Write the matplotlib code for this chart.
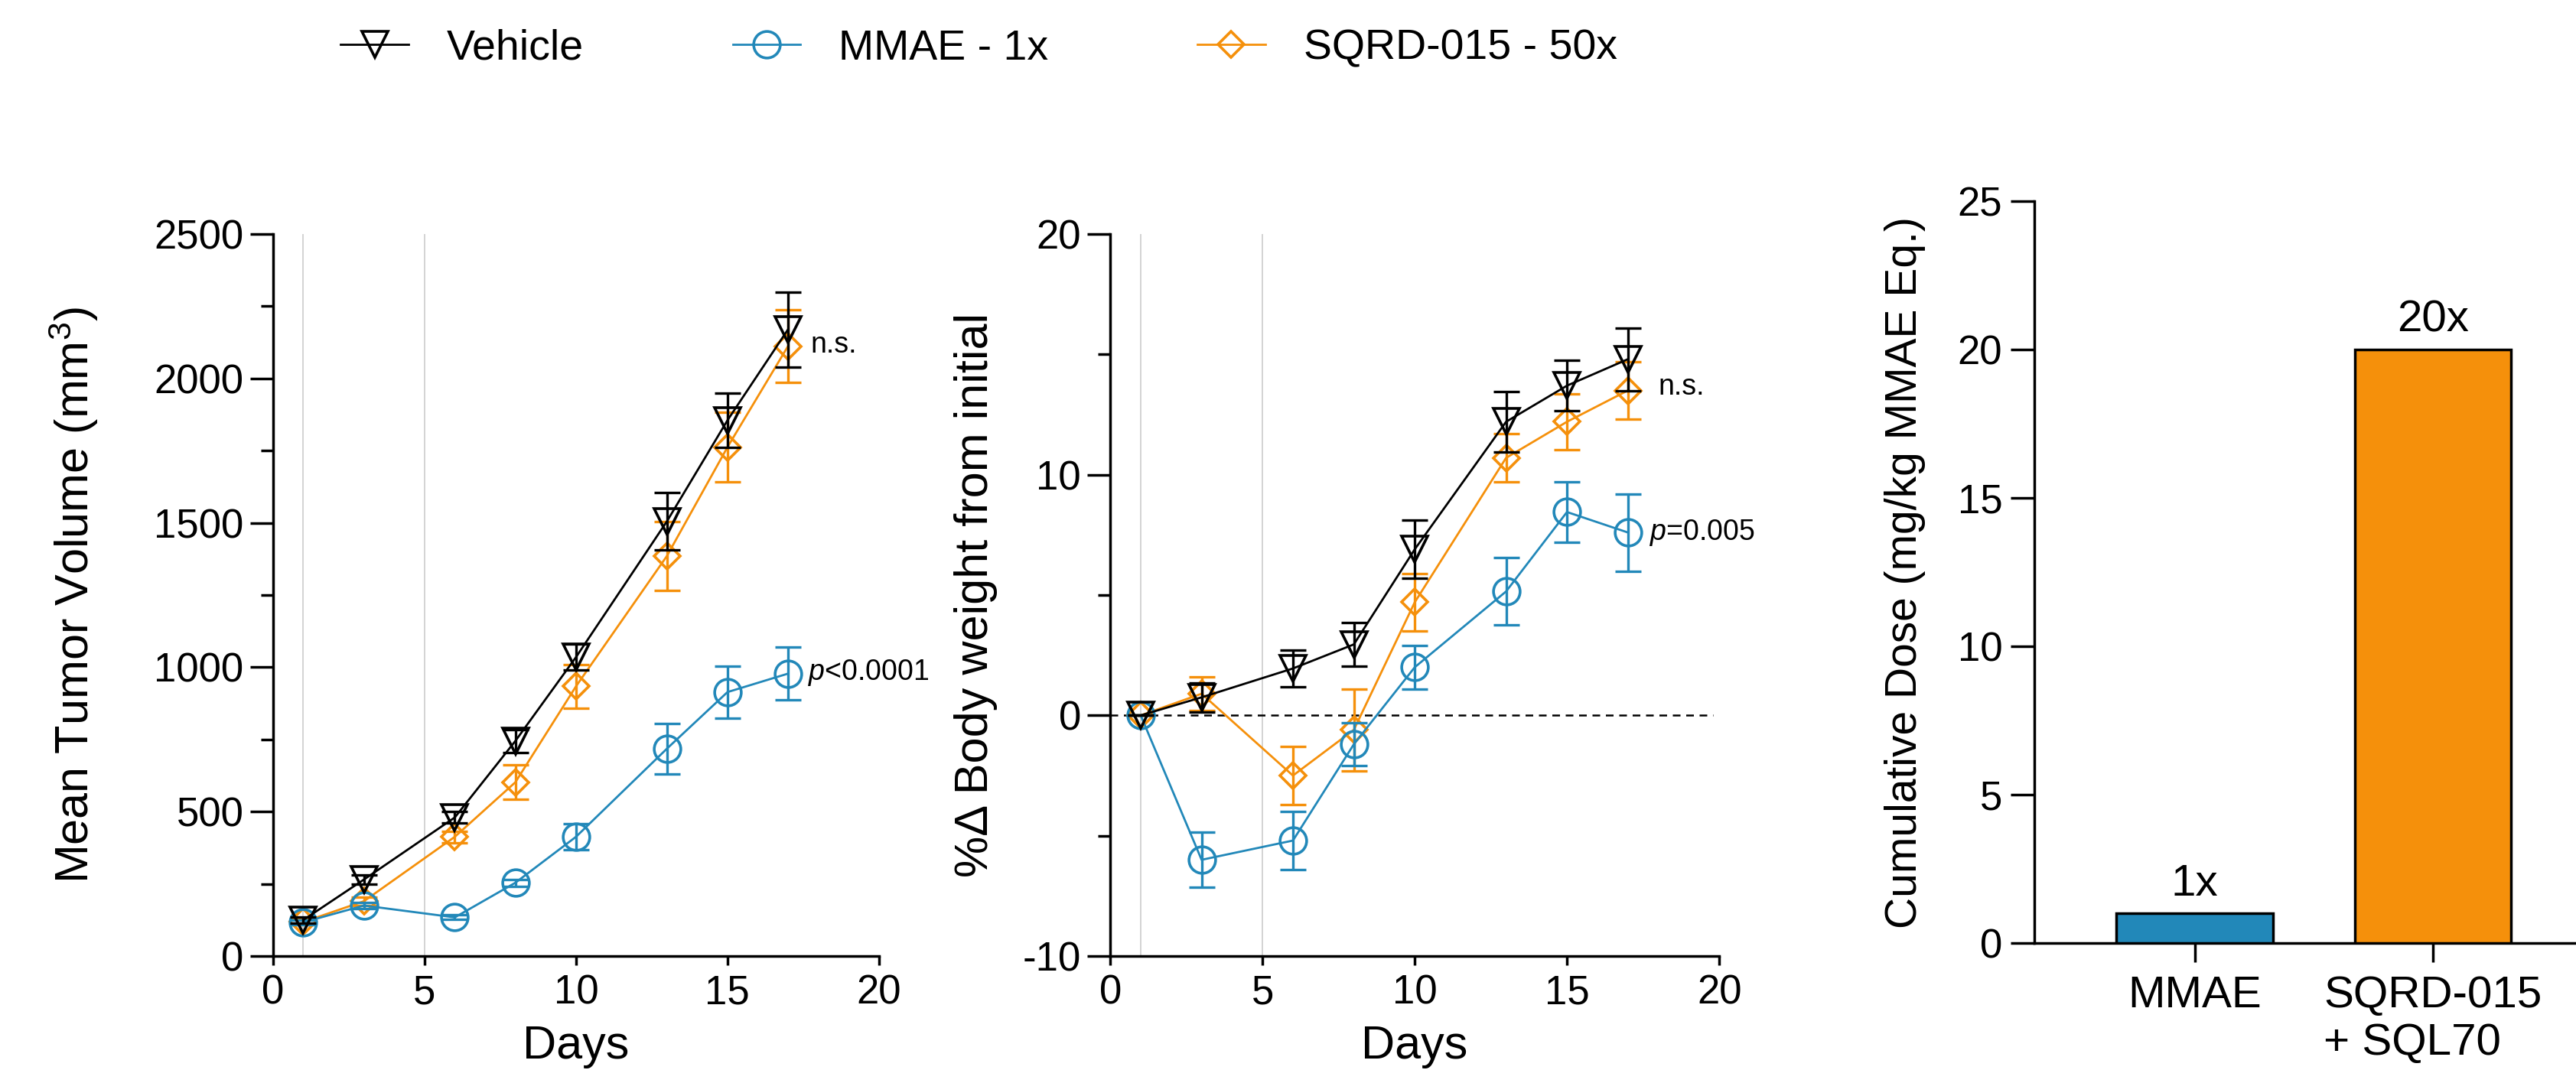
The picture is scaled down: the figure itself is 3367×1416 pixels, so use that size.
import numpy as np
import matplotlib
matplotlib.use('Agg')
import matplotlib.pyplot as plt
from matplotlib.ticker import MultipleLocator

plt.rcParams['font.family'] = ['Liberation Sans', 'DejaVu Sans']
plt.rcParams['mathtext.fontset'] = 'custom'
plt.rcParams['mathtext.rm'] = 'Liberation Sans'
plt.rcParams['mathtext.it'] = 'Liberation Sans:italic'
plt.rcParams['axes.unicode_minus'] = False

# data
days = [1, 3, 6, 8, 10, 13, 15, 17]

vol_vehicle = [125, 265, 480, 745, 1035, 1505, 1855, 2170]
vol_vehicle_err = [10, 15, 20, 40, 45, 100, 95, 130]
vol_mmae = [117, 175, 134, 254, 413, 718, 914, 978]
vol_mmae_err = [8, 10, 8, 12, 44, 87, 90, 92]
vol_sqrd = [118, 190, 413, 602, 934, 1385, 1762, 2112]
vol_sqrd_err = [8, 15, 20, 60, 75, 118, 120, 125]

bw_vehicle = [0, 0.75, 1.95, 2.95, 6.9, 12.2, 13.7, 14.8]
bw_vehicle_err = [0, 0.6, 0.75, 0.9, 1.2, 1.25, 1.05, 1.3]
bw_mmae = [0, -6.0, -5.2, -1.2, 2.0, 5.15, 8.45, 7.6]
bw_mmae_err = [0, 1.15, 1.2, 0.9, 0.9, 1.4, 1.25, 1.6]
bw_sqrd = [0, 0.9, -2.5, -0.6, 4.7, 10.7, 12.2, 13.5]
bw_sqrd_err = [0, 0.7, 1.2, 1.7, 1.2, 1.0, 1.15, 1.2]

dose_groups = ['MMAE', 'SQRD-015\n+ SQL70']
dose_values = [1, 20]
dose_text = ['1x', '20x']

dosing_days = [1, 5]

BLUE = '#2288b9'
ORANGE = '#f5900b'
BLACK = '#000000'

fig = plt.figure(figsize=(33.67, 14.16), dpi=100)
ax1 = fig.add_axes([0.1060, 0.1172, 0.2352, 0.6667])
ax2 = fig.add_axes([0.4310, 0.1172, 0.2364, 0.6667])
ax3 = fig.add_axes([0.7897, 0.1292, 0.2103, 0.6850])

TICK_FS = 38
LABEL_FS = 44
NOTE_FS = 27

series = [
    ('SQRD-015 - 50x', ORANGE, 'D', 17),
    ('MMAE - 1x', BLUE, 'o', 25),
    ('Vehicle', BLACK, 'v', 24),
]


def style_line_axes(ax):
    for s in ['top', 'right']:
        ax.spines[s].set_visible(False)
    for s in ['left', 'bottom']:
        ax.spines[s].set_linewidth(2.5)
    ax.tick_params(axis='y', which='major', direction='out', length=21.6, width=2.5,
                   labelsize=TICK_FS, pad=6)
    ax.tick_params(axis='y', which='minor', direction='out', length=11.5, width=2.5)
    ax.tick_params(axis='x', which='major', direction='out', length=8.6, width=2.5,
                   labelsize=TICK_FS, pad=8)
    ax.set_xlim(0, 20)
    ax.xaxis.set_major_locator(MultipleLocator(5))
    for d in dosing_days:
        ax.axvline(d, color='#d3d3d3', lw=1.4, zorder=0)
    ax.set_xlabel('Days', fontsize=LABEL_FS, labelpad=12)


handles = {}
panel_data = [
    (ax1, {'Vehicle': (vol_vehicle, vol_vehicle_err),
           'MMAE - 1x': (vol_mmae, vol_mmae_err),
           'SQRD-015 - 50x': (vol_sqrd, vol_sqrd_err)}),
    (ax2, {'Vehicle': (bw_vehicle, bw_vehicle_err),
           'MMAE - 1x': (bw_mmae, bw_mmae_err),
           'SQRD-015 - 50x': (bw_sqrd, bw_sqrd_err)}),
]

for ax, data in panel_data:
    style_line_axes(ax)
    for i, (name, col, mk, ms) in enumerate(series):
        y, e = data[name]
        ax.errorbar(days, y, yerr=e, fmt='none', ecolor=col, elinewidth=2.4,
                    capsize=12, capthick=2.4, zorder=3 + i)
        ln, = ax.plot(days, y, color=col, lw=2.0, marker=mk, ms=ms,
                      mfc='none', mec=col, mew=2.6, zorder=3 + i)
        handles[name] = ln

# panel 1
ax1.set_ylim(0, 2500)
ax1.yaxis.set_major_locator(MultipleLocator(500))
ax1.yaxis.set_minor_locator(MultipleLocator(250))
ax1.set_ylabel('Mean Tumor Volume (mm$^3$)', fontsize=LABEL_FS)
ax1.yaxis.set_label_coords(-0.285, 0.5)
ax1.text(17.75, 2116, 'n.s.', fontsize=NOTE_FS, ha='left', va='center')
ax1.text(17.65, 980, '$p$<0.0001', fontsize=NOTE_FS, ha='left', va='center')

# panel 2
ax2.set_ylim(-10, 20)
ax2.yaxis.set_major_locator(MultipleLocator(10))
ax2.yaxis.set_minor_locator(MultipleLocator(5))
ax2.axhline(0, xmin=0, xmax=0.99, color='black', lw=1.8, ls=(0, (4, 3)), zorder=2)
ax2.set_ylabel('%\u0394 Body weight from initial', fontsize=LABEL_FS)
ax2.yaxis.set_label_coords(-0.185, 0.5)
ax2.text(18.0, 13.65, 'n.s.', fontsize=NOTE_FS, ha='left', va='center')
ax2.text(17.7, 7.6, '$p$=0.005', fontsize=NOTE_FS, ha='left', va='center')

# panel 3
xpos = np.arange(len(dose_groups))
bars = ax3.bar(xpos, dose_values, width=0.657, color=[BLUE, ORANGE],
               edgecolor='black', linewidth=2.5, zorder=3)
for b, t in zip(bars, dose_text):
    ax3.annotate(t, (b.get_x() + b.get_width() / 2, b.get_height()),
                 xytext=(0, 8), textcoords='offset points',
                 ha='center', va='bottom', fontsize=42)
ax3.set_xlim(-0.673, 1.6)
ax3.set_ylim(0, 25)
ax3.yaxis.set_major_locator(MultipleLocator(5))
ax3.set_xticks(xpos)
ax3.set_xticklabels(dose_groups, fontsize=42, multialignment='left')
for s in ['top', 'right']:
    ax3.spines[s].set_visible(False)
for s in ['left', 'bottom']:
    ax3.spines[s].set_linewidth(2.5)
ax3.tick_params(axis='y', direction='out', length=22, width=2.5, labelsize=TICK_FS, pad=8)
ax3.tick_params(axis='x', direction='out', length=18, width=2.5, pad=12)
ax3.set_ylabel('Cumulative Dose (mg/kg MMAE Eq.)', fontsize=41)
ax3.yaxis.set_label_coords(-0.2, 0.5)

# legend
order = ['Vehicle', 'MMAE - 1x', 'SQRD-015 - 50x']
fig.legend([handles[k] for k in order], order, loc='center',
           bbox_to_anchor=(0.38, 0.955), ncol=3, frameon=False, fontsize=40,
           handlelength=1.6, handletextpad=0.9, columnspacing=3.5, numpoints=1)

fig.savefig('out.png', dpi=100)
